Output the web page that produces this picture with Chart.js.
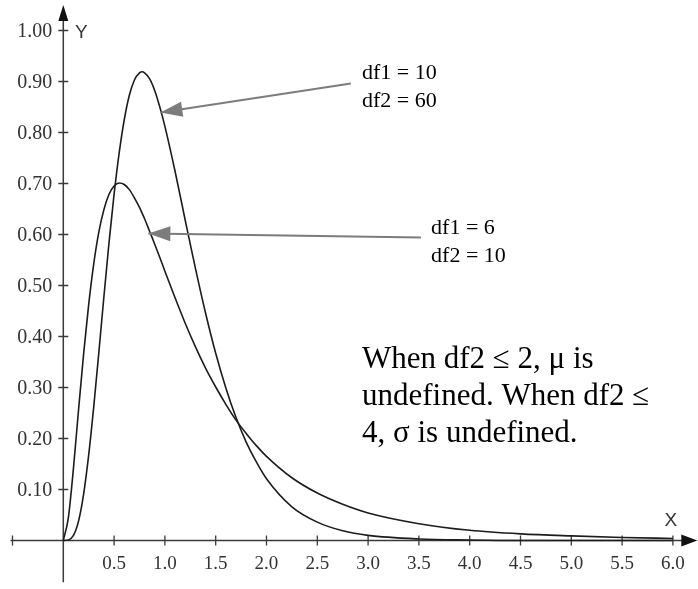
<!DOCTYPE html>
<html>
<head>
<meta charset="utf-8">
<title>F distribution density</title>
<script src="https://cdn.jsdelivr.net/npm/chart.js@4/dist/chart.umd.min.js"></script>
<style>
  body { margin: 0; background: #fff; }
  #wrap { width: 698px; height: 589px; }
</style>
</head>
<body>
<div id="wrap"><canvas id="fChart" width="698" height="589"></canvas></div>
<script>
// sample positions along X and the density read at each one
const xValues = [0, 0.05, 0.1, 0.15, 0.2, 0.25, 0.3, 0.35, 0.4, 0.45, 0.5, 0.55, 0.6, 0.65, 0.7, 0.75, 0.775, 0.8, 0.85, 0.9, 0.95,
                 1.0, 1.1, 1.2, 1.3, 1.4, 1.5, 1.6, 1.7, 1.8, 1.9, 2.0, 2.25, 2.5, 2.75, 3.0, 3.5, 4.0, 4.5, 5.0, 5.5, 6.0];
// df1 = 10, df2 = 60
const density10_60 = [0, 0.001, 0.010, 0.038, 0.091, 0.168, 0.263, 0.369, 0.479, 0.584, 0.679, 0.760, 0.825, 0.873, 0.903, 0.917, 0.919, 0.917, 0.905, 0.882, 0.850,
                      0.812, 0.724, 0.628, 0.534, 0.446, 0.367, 0.299, 0.241, 0.193, 0.154, 0.121, 0.066, 0.036, 0.019, 0.010, 0.003, 0.001, 0, 0, 0, 0];
// df1 = 6, df2 = 10
const density6_10 = [0, 0.045, 0.142, 0.256, 0.366, 0.463, 0.543, 0.605, 0.649, 0.679, 0.695, 0.701, 0.698, 0.688, 0.672, 0.653, 0.642, 0.631, 0.606, 0.581, 0.555,
                     0.528, 0.476, 0.426, 0.380, 0.338, 0.301, 0.267, 0.236, 0.210, 0.186, 0.165, 0.123, 0.093, 0.071, 0.054, 0.033, 0.020, 0.013, 0.009, 0.006, 0.004];

// axis ticks
const xTickValues = [-0.5, 0.5, 1.0, 1.5, 2.0, 2.5, 3.0, 3.5, 4.0, 4.5, 5.0, 5.5, 6.0];
const xTickLabels = ["", "0.5", "1.0", "1.5", "2.0", "2.5", "3.0", "3.5", "4.0", "4.5", "5.0", "5.5", "6.0"];
const yTickValues = [0.1, 0.2, 0.3, 0.4, 0.5, 0.6, 0.7, 0.8, 0.9, 1.0];
const yTickLabels = ["0.10", "0.20", "0.30", "0.40", "0.50", "0.60", "0.70", "0.80", "0.90", "1.00"];

// texts
const curveNotes = [["df1 = 10", "df2 = 60"], ["df1 = 6", "df2 = 10"]];
const noteLines = ["When df2 \u2264 2, \u03bc is", "undefined. When df2 \u2264", "4, \u03c3 is undefined."];

// where the annotations sit (data units)
const callouts = [
  { text: curveNotes[0], at: [2.94, 0.905], tail: [2.83, 0.896], tip: [0.956, 0.839] },
  { text: curveNotes[1], at: [3.62, 0.600], tail: [3.52, 0.594], tip: [0.837, 0.602] }
];

const points = (ys) => xValues.map((x, i) => ({ x: x, y: ys[i] }));

function arrowHead(ctx, fx, fy, tx, ty, len, half) {
  const a = Math.atan2(ty - fy, tx - fx);
  ctx.beginPath();
  ctx.moveTo(tx, ty);
  ctx.lineTo(tx - len * Math.cos(a) + half * Math.sin(a), ty - len * Math.sin(a) - half * Math.cos(a));
  ctx.lineTo(tx - len * Math.cos(a) - half * Math.sin(a), ty - len * Math.sin(a) + half * Math.cos(a));
  ctx.closePath();
  ctx.fill();
}

// axes through the origin, with ticks crossing the line
const crossAxes = {
  id: 'crossAxes',
  beforeDatasetsDraw(chart) {
    const { ctx, scales: { x, y } } = chart;
    const x0 = x.getPixelForValue(0), y0 = y.getPixelForValue(0);
    ctx.save();
    ctx.strokeStyle = '#3a3a3a';
    ctx.fillStyle = '#111';
    ctx.lineWidth = 1.5;

    ctx.beginPath();
    ctx.moveTo(x.getPixelForValue(-0.52), y0);
    ctx.lineTo(x.getPixelForValue(6.2), y0);
    ctx.moveTo(x0, y.getPixelForValue(-0.082));
    ctx.lineTo(x0, y.getPixelForValue(1.03));
    ctx.stroke();
    arrowHead(ctx, x0, y0, x.getPixelForValue(6.24), y0, 16, 6);
    arrowHead(ctx, x0, y0, x0, y.getPixelForValue(1.05), 16, 5);

    ctx.lineWidth = 1.3;
    ctx.beginPath();
    xTickValues.forEach(v => {
      const px = x.getPixelForValue(v);
      ctx.moveTo(px, y0 - 5);
      ctx.lineTo(px, y0 + 5);
    });
    yTickValues.forEach(v => {
      const py = y.getPixelForValue(v);
      ctx.moveTo(x0 - 5, py);
      ctx.lineTo(x0 + 5, py);
    });
    ctx.stroke();

    ctx.fillStyle = '#333';
    ctx.font = '19px "Liberation Serif"';
    ctx.textAlign = 'center';
    ctx.textBaseline = 'middle';
    xTickValues.forEach((v, i) => ctx.fillText(xTickLabels[i], x.getPixelForValue(v), y0 + 24));
    ctx.font = '20px "Liberation Serif"';
    ctx.textAlign = 'right';
    yTickValues.forEach((v, i) => ctx.fillText(yTickLabels[i], x0 - 11, y.getPixelForValue(v) + 1));

    ctx.font = '19px "Liberation Sans"';
    ctx.textAlign = 'center';
    ctx.fillText('Y', x0 + 18, y.getPixelForValue(1.0) + 2);
    ctx.fillText('X', x.getPixelForValue(5.98), y0 - 20);
    ctx.restore();
  },
  afterDraw(chart) {
    const { ctx, scales: { x, y } } = chart;
    ctx.save();
    callouts.forEach(c => {
      const fx = x.getPixelForValue(c.tail[0]), fy = y.getPixelForValue(c.tail[1]);
      const tx = x.getPixelForValue(c.tip[0]), ty = y.getPixelForValue(c.tip[1]);
      ctx.strokeStyle = '#7c7c7c';
      ctx.fillStyle = '#7c7c7c';
      ctx.lineWidth = 2;
      ctx.beginPath();
      ctx.moveTo(fx, fy);
      ctx.lineTo(tx, ty);
      ctx.stroke();
      arrowHead(ctx, fx, fy, tx, ty, 22, 7.5);

      ctx.fillStyle = '#000';
      ctx.font = '22px "Liberation Serif"';
      ctx.textAlign = 'left';
      ctx.textBaseline = 'alphabetic';
      const lx = x.getPixelForValue(c.at[0]), ly = y.getPixelForValue(c.at[1]);
      c.text.forEach((t, i) => ctx.fillText(t, lx, ly + i * 28));
    });

    ctx.fillStyle = '#000';
    ctx.font = '31px "Liberation Serif"';
    ctx.textAlign = 'left';
    ctx.textBaseline = 'alphabetic';
    const nx = x.getPixelForValue(2.94), ny = y.getPixelForValue(0.338);
    noteLines.forEach((t, i) => ctx.fillText(t, nx, ny + i * 37));
    ctx.restore();
  }
};

const ctx = document.getElementById('fChart').getContext('2d');
const fChart = new Chart(ctx, {
  type: 'line',
  data: {
    datasets: [
      { label: 'df1 = 10, df2 = 60', data: points(density10_60) },
      { label: 'df1 = 6, df2 = 10', data: points(density6_10) }
    ]
  },
  options: {
    responsive: false,
    animation: false,
    devicePixelRatio: 1,
    layout: { padding: 0 },
    elements: {
      line: { borderColor: '#1c1c1c', borderWidth: 1.6, cubicInterpolationMode: 'monotone', fill: false },
      point: { radius: 0 }
    },
    scales: {
      x: { type: 'linear', min: -0.623, max: 6.247, display: false },
      y: { type: 'linear', min: -0.0951, max: 1.0598, display: false }
    },
    plugins: {
      legend: { display: false },
      tooltip: { enabled: false }
    }
  },
  plugins: [crossAxes]
});
</script>
</body>
</html>
